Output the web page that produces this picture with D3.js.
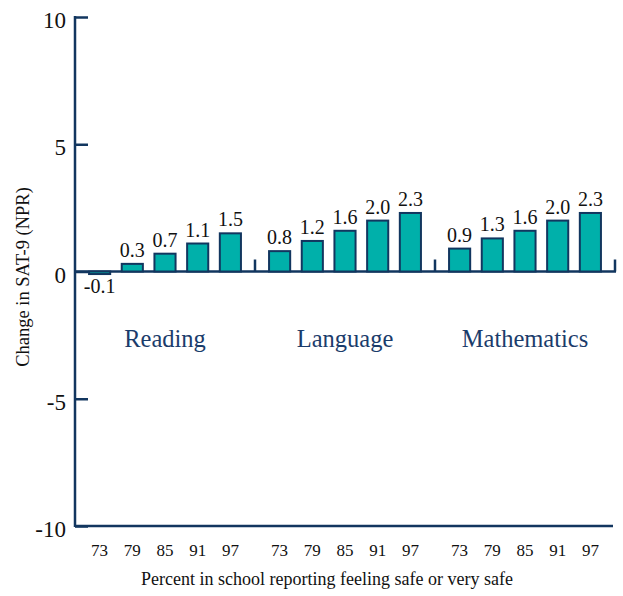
<!DOCTYPE html>
<html><head><meta charset="utf-8">
<script src="https://cdn.jsdelivr.net/npm/d3@7"></script>
</head><body style="margin:0;background:#fff">
<svg id="c" width="623" height="596"></svg>
<script>
const groups = ["Reading", "Language", "Mathematics"];
const percents = ["73", "79", "85", "91", "97"];
const reading = [-0.1, 0.3, 0.7, 1.1, 1.5];
const language = [0.8, 1.2, 1.6, 2.0, 2.3];
const mathematics = [0.9, 1.3, 1.6, 2.0, 2.3];
const yTicks = [-10, -5, 0, 5, 10];
const yTitle = "Change in SAT-9 (NPR)";
const xTitle = "Percent in school reporting feeling safe or very safe";

(function () {
const series = [reading, language, mathematics];
const navy = "#12365f";
const font = '"Liberation Serif"';
const svg = d3.select("#c");
const mLeft = 75, mRight = 615, mTop = 17, mBottom = 526;

const y = d3.scaleLinear().domain([-10, 10]).range([mBottom, mTop]);
const xg = d3.scaleBand().domain(groups).range([mLeft, mRight]).padding(0);
const xi = d3.scaleBand().domain(percents).range([0, xg.bandwidth()]).paddingInner(0.354).paddingOuter(0.43);

// y axis
const yAxis = d3.axisRight(y).tickValues(yTicks).tickSize(13).tickFormat("");
const ga = svg.append("g").attr("transform", `translate(${mLeft},0)`).call(yAxis);
ga.select(".domain").remove();
ga.selectAll(".tick line").attr("stroke", navy).attr("stroke-width", 2.5);
svg.append("line").attr("x1", mLeft).attr("x2", mLeft).attr("y1", mTop - 1).attr("y2", mBottom + 1)
  .attr("stroke", navy).attr("stroke-width", 2.5);
svg.selectAll(".ylab").data(yTicks).join("text")
  .style("font-family", font)
  .attr("x", 66).attr("y", d => y(d)).attr("dy", "0.48em").attr("text-anchor", "end")
  .attr("font-size", 23).attr("fill", "#111").text(d => d);

// bottom line
svg.append("line").attr("x1", mLeft).attr("x2", mRight - 2).attr("y1", mBottom).attr("y2", mBottom)
  .attr("stroke", navy).attr("stroke-width", 2.5);
// zero line
svg.append("line").attr("x1", mLeft).attr("x2", mRight + 1).attr("y1", y(0)).attr("y2", y(0))
  .attr("stroke", navy).attr("stroke-width", 2.5);
// group separators
svg.selectAll(".sep").data(groups).join("line")
  .attr("x1", d => xg(d) + xg.bandwidth()).attr("x2", d => xg(d) + xg.bandwidth())
  .attr("y1", y(0)).attr("y2", y(0) - 12).attr("stroke", navy).attr("stroke-width", 2.5);

groups.forEach((g, gi) => {
  const vals = series[gi];
  const gg = svg.append("g").attr("transform", `translate(${xg(g)},0)`);
  gg.selectAll("rect").data(vals).join("rect")
    .attr("x", (d, i) => xi(percents[i]))
    .attr("width", xi.bandwidth())
    .attr("y", d => Math.min(y(d), y(0)))
    .attr("height", d => Math.abs(y(d) - y(0)))
    .attr("fill", "#00b0aa").attr("stroke", navy).attr("stroke-width", 2);
  gg.selectAll(".val").data(vals).join("text")
    .style("font-family", font)
    .attr("x", (d, i) => xi(percents[i]) + xi.bandwidth() / 2)
    .attr("y", d => d >= 0 ? y(d) - 7 : y(0) + 21)
    .attr("text-anchor", "middle").attr("font-size", 20).attr("fill", "#111")
    .text(d => d.toFixed(1));
  gg.selectAll(".xl").data(percents).join("text")
    .style("font-family", font)
    .attr("x", d => xi(d) + xi.bandwidth() / 2).attr("y", 556)
    .attr("text-anchor", "middle").attr("font-size", 17).attr("fill", "#111").text(d => d);
  gg.append("text").style("font-family", font)
    .attr("x", xg.bandwidth() / 2).attr("y", 347)
    .attr("text-anchor", "middle").attr("font-size", 24.5).attr("fill", "#1b3c6b").text(g);
});

svg.append("text").style("font-family", font).attr("x", 327).attr("y", 585).attr("text-anchor", "middle")
  .attr("font-size", 18).attr("fill", "#111").text(xTitle);
svg.append("text").style("font-family", font).attr("transform", `translate(29,277) rotate(-90)`).attr("text-anchor", "middle")
  .attr("font-size", 18.5).attr("fill", "#111").text(yTitle);
})();
</script>
</body></html>
